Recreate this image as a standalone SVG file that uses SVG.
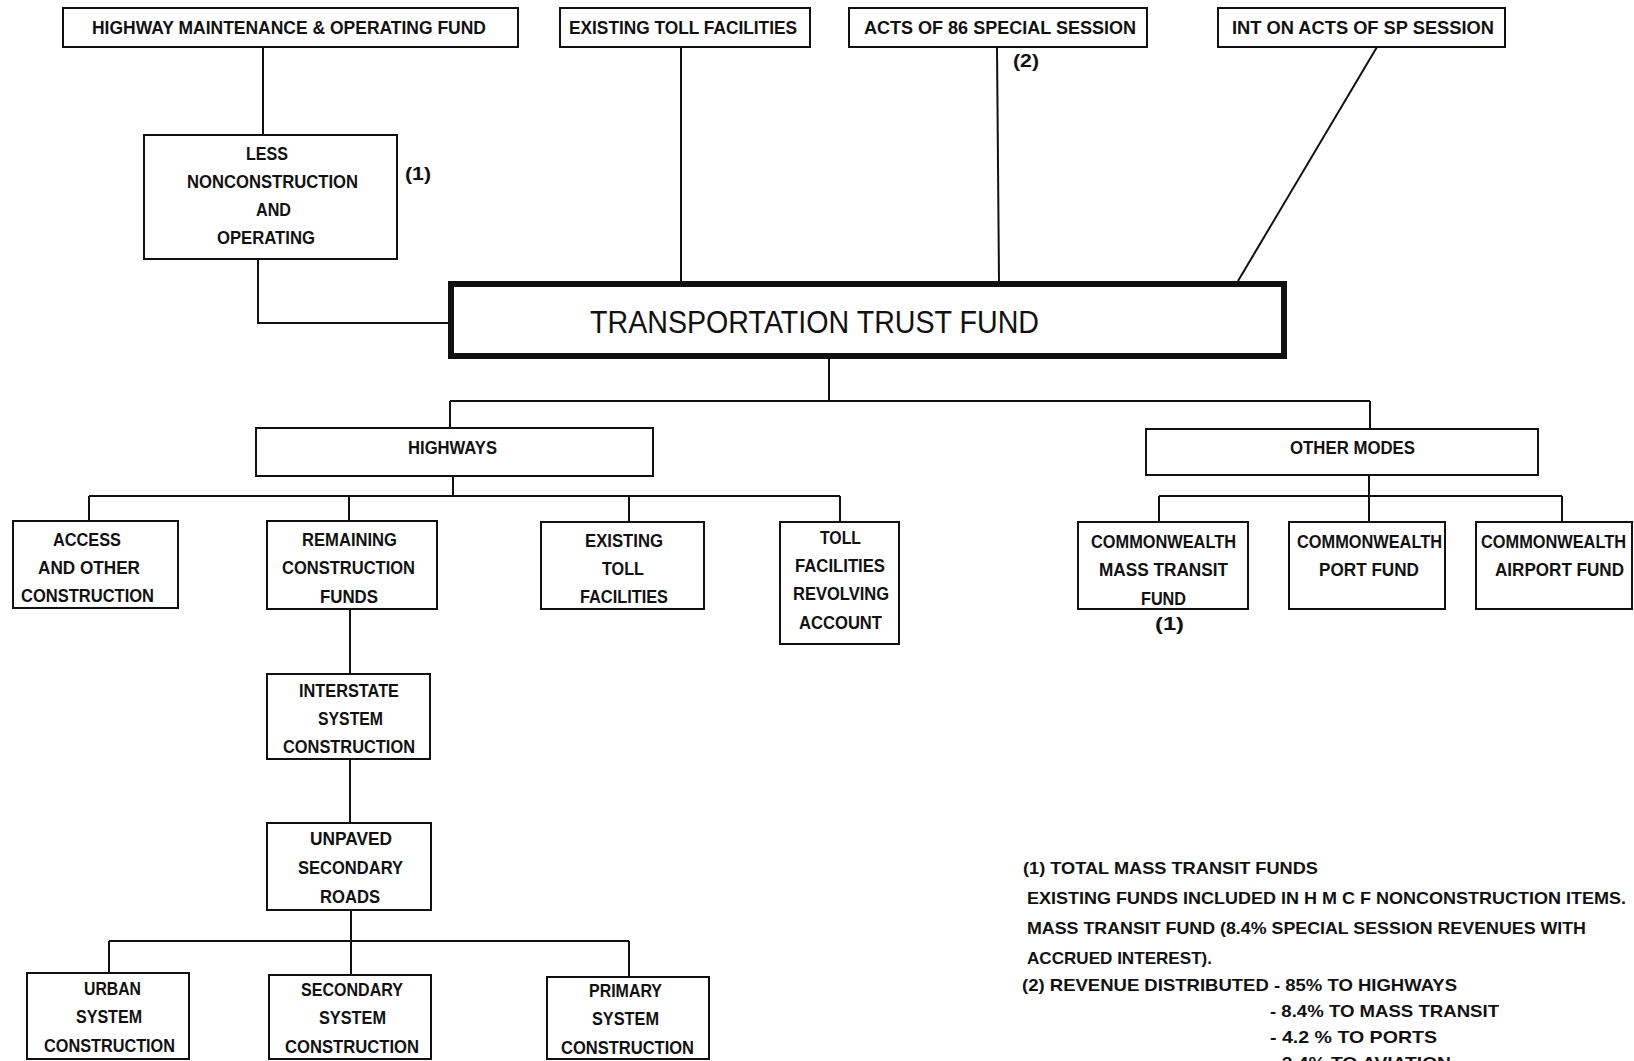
<svg xmlns="http://www.w3.org/2000/svg" width="1634" height="1061" viewBox="0 0 1634 1061">
<style>
.box{fill:#fff;stroke:#111;stroke-width:2}
.big{fill:#fff;stroke:#111;stroke-width:6}
.t{font-family:"Liberation Sans",Arial,sans-serif;font-weight:bold;font-size:18px;fill:#111}
.l{font-family:"Liberation Sans",Arial,sans-serif;font-weight:bold;font-size:17px;fill:#111}
.title{font-family:"Liberation Sans",Arial,sans-serif;font-size:32px;fill:#111}
#connectors path{fill:none;stroke:#111;stroke-width:2}
</style>
<rect width="1634" height="1061" fill="#fff"/>
<g id="connectors">
<path d="M263 47V135"/>
<path d="M258 259V323H448"/>
<path d="M681 47V281"/>
<path d="M997 47L999 281"/>
<path d="M1377 47L1238 281"/>
<path d="M829 359V401M450 401H1370M450 401V428M1370 401V429"/>
<path d="M453 476V496M89 496H840M89 496V521M349 496V521M629 496V522M840 496V522"/>
<path d="M1369 475V496M1159 496H1562M1159 496V522M1369 496V522M1562 496V522"/>
<path d="M350 609V674M350 759V823"/>
<path d="M351 910V941M109 941H629M109 941V973M351 941V975M629 941V977"/>
</g>
<g id="n-hmof"><rect class="box" x="63" y="8" width="455" height="39"/><text class="t" x="92" y="34" textLength="394" lengthAdjust="spacingAndGlyphs">HIGHWAY MAINTENANCE &amp; OPERATING FUND</text></g>
<g id="n-etf-top"><rect class="box" x="560" y="8" width="250" height="39"/><text class="t" x="569" y="34" textLength="228" lengthAdjust="spacingAndGlyphs">EXISTING TOLL FACILITIES</text></g>
<g id="n-acts"><rect class="box" x="849" y="8" width="298" height="39"/><text class="t" x="864" y="34" textLength="272" lengthAdjust="spacingAndGlyphs">ACTS OF 86 SPECIAL SESSION</text><text class="t" x="1013" y="67" textLength="26" lengthAdjust="spacingAndGlyphs">(2)</text></g>
<g id="n-int"><rect class="box" x="1218" y="8" width="287" height="39"/><text class="t" x="1232" y="34" textLength="262" lengthAdjust="spacingAndGlyphs">INT ON ACTS OF SP SESSION</text></g>
<g id="n-less"><rect class="box" x="144" y="135" width="253" height="124"/>
<text class="t" x="246" y="160" textLength="42" lengthAdjust="spacingAndGlyphs">LESS</text>
<text class="t" x="187" y="188" textLength="171" lengthAdjust="spacingAndGlyphs">NONCONSTRUCTION</text>
<text class="t" x="256" y="216" textLength="35" lengthAdjust="spacingAndGlyphs">AND</text>
<text class="t" x="217" y="244" textLength="98" lengthAdjust="spacingAndGlyphs">OPERATING</text>
<text class="t" x="405" y="180" textLength="26" lengthAdjust="spacingAndGlyphs">(1)</text></g>
<g id="n-ttf"><rect class="big" x="451" y="284" width="833" height="72"/><text class="title" x="590" y="333" textLength="449" lengthAdjust="spacingAndGlyphs">TRANSPORTATION TRUST FUND</text></g>
<g id="n-highways"><rect class="box" x="256" y="428" width="397" height="48"/><text class="t" x="408" y="454" textLength="89" lengthAdjust="spacingAndGlyphs">HIGHWAYS</text></g>
<g id="n-other"><rect class="box" x="1146" y="429" width="392" height="46"/><text class="t" x="1290" y="454" textLength="125" lengthAdjust="spacingAndGlyphs">OTHER MODES</text></g>
<g id="n-access"><rect class="box" x="13" y="521" width="165" height="87"/>
<text class="t" x="53" y="546" textLength="68" lengthAdjust="spacingAndGlyphs">ACCESS</text>
<text class="t" x="38" y="574" textLength="102" lengthAdjust="spacingAndGlyphs">AND OTHER</text>
<text class="t" x="21" y="602" textLength="133" lengthAdjust="spacingAndGlyphs">CONSTRUCTION</text></g>
<g id="n-remaining"><rect class="box" x="267" y="521" width="170" height="88"/>
<text class="t" x="302" y="546" textLength="95" lengthAdjust="spacingAndGlyphs">REMAINING</text>
<text class="t" x="282" y="574" textLength="133" lengthAdjust="spacingAndGlyphs">CONSTRUCTION</text>
<text class="t" x="320" y="603" textLength="58" lengthAdjust="spacingAndGlyphs">FUNDS</text></g>
<g id="n-etf"><rect class="box" x="541" y="522" width="163" height="87"/>
<text class="t" x="585" y="547" textLength="78" lengthAdjust="spacingAndGlyphs">EXISTING</text>
<text class="t" x="602" y="575" textLength="42" lengthAdjust="spacingAndGlyphs">TOLL</text>
<text class="t" x="580" y="603" textLength="88" lengthAdjust="spacingAndGlyphs">FACILITIES</text></g>
<g id="n-toll"><rect class="box" x="780" y="522" width="119" height="122"/>
<text class="t" x="820" y="544" textLength="41" lengthAdjust="spacingAndGlyphs">TOLL</text>
<text class="t" x="795" y="572" textLength="90" lengthAdjust="spacingAndGlyphs">FACILITIES</text>
<text class="t" x="793" y="600" textLength="96" lengthAdjust="spacingAndGlyphs">REVOLVING</text>
<text class="t" x="799" y="629" textLength="83" lengthAdjust="spacingAndGlyphs">ACCOUNT</text></g>
<g id="n-mass"><rect class="box" x="1078" y="522" width="170" height="87"/>
<text class="t" x="1091" y="548" textLength="145" lengthAdjust="spacingAndGlyphs">COMMONWEALTH</text>
<text class="t" x="1099" y="576" textLength="129" lengthAdjust="spacingAndGlyphs">MASS TRANSIT</text>
<text class="t" x="1141" y="605" textLength="45" lengthAdjust="spacingAndGlyphs">FUND</text>
<text class="t" x="1155" y="630" textLength="29" lengthAdjust="spacingAndGlyphs">(1)</text></g>
<g id="n-port"><rect class="box" x="1289" y="522" width="156" height="87"/>
<text class="t" x="1297" y="548" textLength="145" lengthAdjust="spacingAndGlyphs">COMMONWEALTH</text>
<text class="t" x="1319" y="576" textLength="100" lengthAdjust="spacingAndGlyphs">PORT FUND</text></g>
<g id="n-airport"><rect class="box" x="1476" y="522" width="156" height="87"/>
<text class="t" x="1481" y="548" textLength="145" lengthAdjust="spacingAndGlyphs">COMMONWEALTH</text>
<text class="t" x="1495" y="576" textLength="129" lengthAdjust="spacingAndGlyphs">AIRPORT FUND</text></g>
<g id="n-interstate"><rect class="box" x="267" y="674" width="163" height="85"/>
<text class="t" x="299" y="697" textLength="100" lengthAdjust="spacingAndGlyphs">INTERSTATE</text>
<text class="t" x="318" y="725" textLength="65" lengthAdjust="spacingAndGlyphs">SYSTEM</text>
<text class="t" x="283" y="753" textLength="132" lengthAdjust="spacingAndGlyphs">CONSTRUCTION</text></g>
<g id="n-unpaved"><rect class="box" x="267" y="823" width="164" height="87"/>
<text class="t" x="310" y="845" textLength="82" lengthAdjust="spacingAndGlyphs">UNPAVED</text>
<text class="t" x="298" y="874" textLength="105" lengthAdjust="spacingAndGlyphs">SECONDARY</text>
<text class="t" x="320" y="903" textLength="60" lengthAdjust="spacingAndGlyphs">ROADS</text></g>
<g id="n-urban"><rect class="box" x="27" y="973" width="162" height="86"/>
<text class="t" x="84" y="995" textLength="57" lengthAdjust="spacingAndGlyphs">URBAN</text>
<text class="t" x="76" y="1023" textLength="66" lengthAdjust="spacingAndGlyphs">SYSTEM</text>
<text class="t" x="44" y="1052" textLength="131" lengthAdjust="spacingAndGlyphs">CONSTRUCTION</text></g>
<g id="n-secondary"><rect class="box" x="269" y="975" width="162" height="84"/>
<text class="t" x="301" y="996" textLength="102" lengthAdjust="spacingAndGlyphs">SECONDARY</text>
<text class="t" x="319" y="1024" textLength="67" lengthAdjust="spacingAndGlyphs">SYSTEM</text>
<text class="t" x="285" y="1053" textLength="134" lengthAdjust="spacingAndGlyphs">CONSTRUCTION</text></g>
<g id="n-primary"><rect class="box" x="547" y="977" width="162" height="82"/>
<text class="t" x="589" y="997" textLength="73" lengthAdjust="spacingAndGlyphs">PRIMARY</text>
<text class="t" x="592" y="1025" textLength="67" lengthAdjust="spacingAndGlyphs">SYSTEM</text>
<text class="t" x="561" y="1054" textLength="133" lengthAdjust="spacingAndGlyphs">CONSTRUCTION</text></g>
<g id="legend">
<text class="l" x="1023" y="874" textLength="295" lengthAdjust="spacingAndGlyphs">(1) TOTAL MASS TRANSIT FUNDS</text>
<text class="l" x="1027" y="904" textLength="599" lengthAdjust="spacingAndGlyphs">EXISTING FUNDS INCLUDED IN H M C F NONCONSTRUCTION ITEMS.</text>
<text class="l" x="1027" y="934" textLength="559" lengthAdjust="spacingAndGlyphs">MASS TRANSIT FUND (8.4% SPECIAL SESSION REVENUES WITH</text>
<text class="l" x="1027" y="964" textLength="185" lengthAdjust="spacingAndGlyphs">ACCRUED INTEREST).</text>
<text class="l" x="1022" y="991" textLength="435" lengthAdjust="spacingAndGlyphs">(2) REVENUE DISTRIBUTED - 85% TO HIGHWAYS</text>
<text class="l" x="1270" y="1017" textLength="229" lengthAdjust="spacingAndGlyphs">- 8.4% TO MASS TRANSIT</text>
<text class="l" x="1270" y="1043" textLength="167" lengthAdjust="spacingAndGlyphs">- 4.2 % TO PORTS</text>
<text class="l" x="1270" y="1069" textLength="181" lengthAdjust="spacingAndGlyphs">- 2.4% TO AVIATION</text>
</g>
</svg>
